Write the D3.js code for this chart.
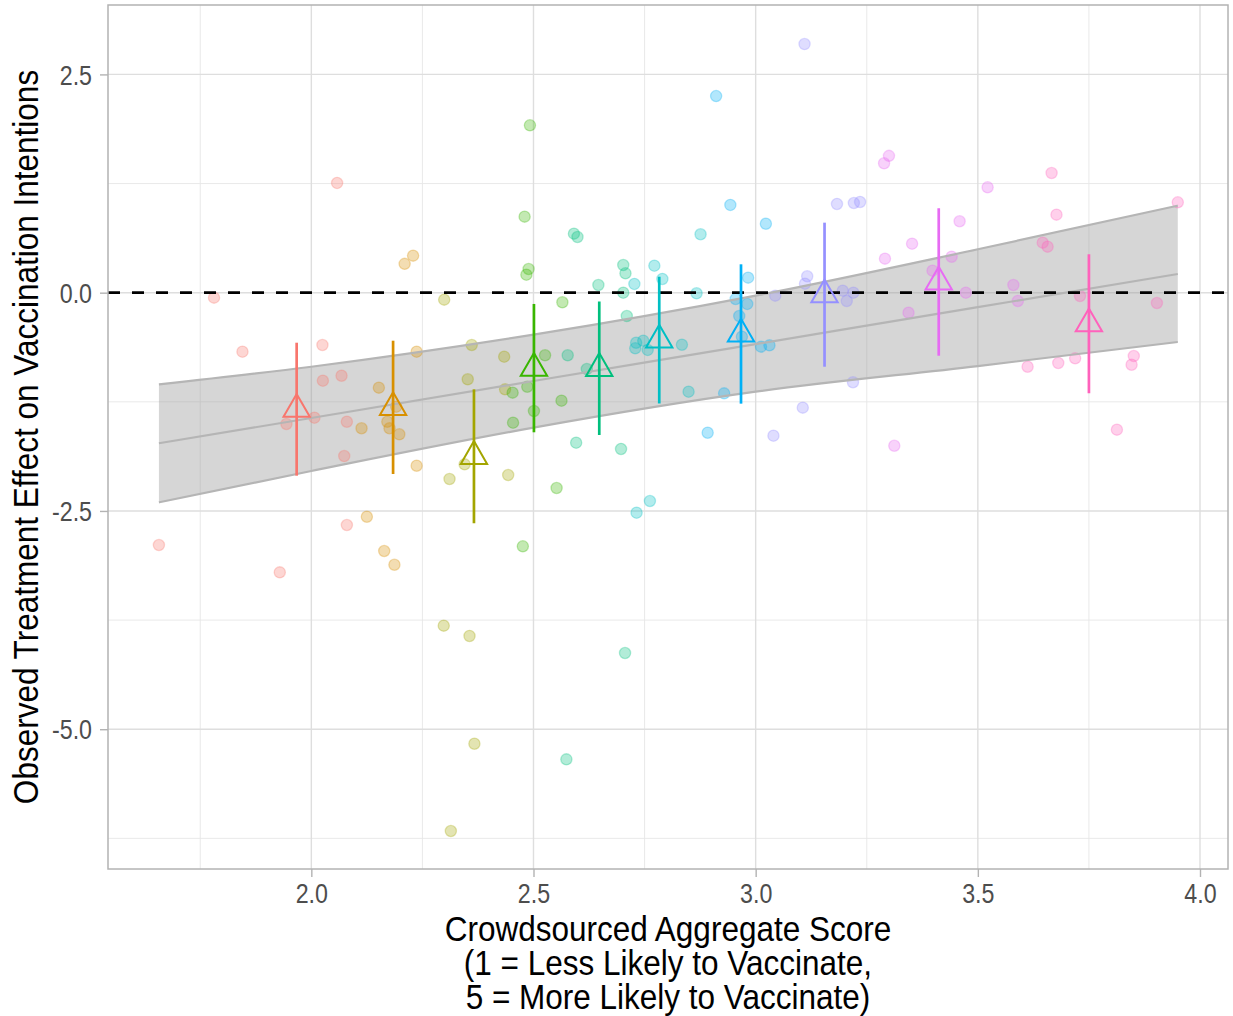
<!DOCTYPE html>
<html>
<head>
<meta charset="utf-8">
<script src="https://cdn.jsdelivr.net/npm/d3@7"></script>
<style>
  html, body { margin: 0; padding: 0; background: #ffffff; }
  svg { display: block; }
  text { font-family: "Liberation Sans", Arial, Helvetica, sans-serif; }
</style>
</head>
<body>
<svg id="chart" width="1233" height="1016"></svg>
<script>
// ---- data ----------------------------------------------------------
// Bin (1..10) of each observation, its crowdsourced score and observed effect
const pointGroup = [
  1,1,1,1,1,1,1,1,1,1,1,1,1,
  2,2,2,2,2,2,2,2,2,2,2,2,2,
  3,3,3,3,3,3,3,3,3,3,3,3,
  4,4,4,4,4,4,4,4,4,4,4,4,4,
  5,5,5,5,5,5,5,5,5,5,5,5,5,
  6,6,6,6,6,6,6,6,6,6,6,6,6,
  7,7,7,7,7,7,7,7,7,7,7,7,
  8,8,8,8,8,8,8,8,8,8,8,8,8,
  9,9,9,9,9,9,9,9,9,9,9,9,9,
  10,10,10,10,10,10,10,10,10,10,10,10,10
];
const pointScore = [
  1.657,1.781,1.845,1.929,1.944,2.007,2.025,2.026,2.068,2.080,2.074,2.080,2.058,
  2.210,2.229,2.152,2.113,2.171,2.176,2.198,2.191,2.125,2.164,2.187,2.237,2.237,
  2.299,2.361,2.352,2.434,2.436,2.345,2.311,2.443,2.298,2.356,2.367,2.314,
  2.492,2.480,2.489,2.484,2.565,2.526,2.453,2.486,2.501,2.563,2.454,2.552,2.476,
  2.591,2.599,2.702,2.707,2.646,2.702,2.710,2.577,2.620,2.596,2.697,2.706,2.574,
  2.772,2.790,2.727,2.876,2.867,2.731,2.747,2.729,2.757,2.834,2.849,2.732,2.762,
  2.911,2.943,3.023,2.983,2.955,2.981,2.963,2.969,3.012,3.031,2.929,2.892,
  3.110,3.183,3.221,3.235,3.116,3.111,3.196,3.220,3.205,3.044,3.219,3.106,3.040,
  3.300,3.289,3.522,3.459,3.352,3.291,3.441,3.398,3.473,3.344,3.312,3.580,3.590,
  3.666,3.677,3.646,3.657,3.730,3.950,3.903,3.612,3.681,3.719,3.851,3.846,3.813
];
const pointEffect = [
  -2.890,-0.057,-0.676,-3.203,-1.504,-1.432,-0.599,-1.008,-0.951,-1.478,-1.871,-2.661,1.257,
  0.330,0.424,-1.088,-1.553,-1.478,-1.553,-1.622,-1.306,-2.566,-2.959,-3.116,-0.676,-1.982,
  -0.080,-0.599,-0.992,-0.733,-1.107,-1.966,-2.134,-2.088,-3.814,-3.932,-5.166,-6.166,
  1.917,0.871,0.271,0.206,-0.110,-0.717,-1.145,-1.077,-1.355,-1.237,-1.489,-2.237,-2.905,
  0.676,0.638,0.317,0.222,0.088,0.000,-0.267,-0.717,-0.874,-1.718,-1.790,-4.127,-5.345,
  0.309,0.157,0.100,0.669,-0.007,-0.573,-0.550,-0.637,-0.656,-0.596,-1.134,-2.520,-2.386,
  2.252,1.005,0.790,0.172,-0.072,-0.129,-0.267,-0.504,-0.618,-0.603,-1.153,-1.604,
  2.848,1.016,1.027,1.039,0.188,0.103,0.023,0.000,-0.095,-0.034,-1.026,-1.317,-1.638,
  1.567,1.482,1.207,0.818,0.561,0.390,0.412,0.252,0.000,-0.229,-1.753,0.088,-0.095,
  1.371,0.894,0.573,0.527,-0.038,1.035,-0.118,-0.848,-0.805,-0.752,-0.725,-0.825,-1.569
];

// Bin summaries: mean score, mean effect and interval bounds
const binIds    = [1, 2, 3, 4, 5, 6, 7, 8, 9, 10];
const binScore  = [1.967, 2.184, 2.366, 2.501, 2.648, 2.783, 2.967, 3.155, 3.412, 3.750];
const binEffect = [-1.335, -1.315, -1.874, -0.865, -0.866, -0.542, -0.473, -0.023, 0.123, -0.356];
const binLow    = [-2.096, -2.077, -2.641, -1.599, -1.630, -1.269, -1.271, -0.848, -0.722, -1.152];
const binHigh   = [-0.573, -0.550, -1.107, -0.129, -0.101, 0.183, 0.325, 0.802, 0.967, 0.440];

// Linear fit with its confidence band
const fitScore = [1.657, 2.0, 2.5, 3.0, 3.5, 3.95];
const fitValue = [-1.725, -1.435, -1.012, -0.589, -0.166, 0.214];
const fitLower = [-2.401, -2.042, -1.546, -1.134, -0.841, -0.565];
const fitUpper = [-1.051, -0.848, -0.481, -0.034, 0.497, 0.997];

// Axis breaks
const xTicks = [2.0, 2.5, 3.0, 3.5, 4.0];
const xMinorTicks = [1.75, 2.25, 2.75, 3.25, 3.75];
const yTicks = [2.5, 0.0, -2.5, -5.0];
const yMinorTicks = [1.25, -1.25, -3.75, -6.25];
const xTickLabels = ["2.0", "2.5", "3.0", "3.5", "4.0"];
const yTickLabels = ["2.5", "0.0", "-2.5", "-5.0"];

const xTitleLines = [
  "Crowdsourced Aggregate Score",
  "(1 = Less Likely to Vaccinate,",
  "5 = More Likely to Vaccinate)"
];
const yTitle = "Observed Treatment Effect on Vaccination Intentions";

// ---- layout --------------------------------------------------------
const panel = { left: 108, right: 1228, top: 5, bottom: 869 };
const svg = d3.select("#chart");

const x = d3.scaleLinear().domain([1.5424, 4.063]).range([panel.left, panel.right]);
const y = d3.scaleLinear().domain([-6.601, 3.295]).range([panel.bottom, panel.top]);

const palette = ["#F8766D", "#D89000", "#A3A500", "#39B600", "#00BF7D",
                 "#00BFC4", "#00B0F6", "#9590FF", "#E76BF3", "#FF62BC"];
const color = d3.scaleOrdinal().domain(binIds).range(palette);

// panel background
svg.append("rect")
  .attr("x", panel.left).attr("y", panel.top)
  .attr("width", panel.right - panel.left).attr("height", panel.bottom - panel.top)
  .attr("fill", "#ffffff");

// grid
const grid = svg.append("g");
grid.selectAll(".xminor").data(xMinorTicks).join("line")
  .attr("x1", d => x(d)).attr("x2", d => x(d))
  .attr("y1", panel.top).attr("y2", panel.bottom)
  .attr("stroke", "#e6e6e6").attr("stroke-width", 0.9);
grid.selectAll(".yminor").data(yMinorTicks).join("line")
  .attr("x1", panel.left).attr("x2", panel.right)
  .attr("y1", d => y(d)).attr("y2", d => y(d))
  .attr("stroke", "#e6e6e6").attr("stroke-width", 0.9);
grid.selectAll(".xmajor").data(xTicks).join("line")
  .attr("x1", d => x(d)).attr("x2", d => x(d))
  .attr("y1", panel.top).attr("y2", panel.bottom)
  .attr("stroke", "#dedede").attr("stroke-width", 1.4);
grid.selectAll(".ymajor").data(yTicks).join("line")
  .attr("x1", panel.left).attr("x2", panel.right)
  .attr("y1", d => y(d)).attr("y2", d => y(d))
  .attr("stroke", "#dedede").attr("stroke-width", 1.4);

// confidence band of the linear fit
const band = fitScore.map((s, i) => ({ s, fit: fitValue[i], lo: fitLower[i], hi: fitUpper[i] }));
svg.append("path")
  .datum(band)
  .attr("d", d3.area().x(d => x(d.s)).y0(d => y(d.lo)).y1(d => y(d.hi)).curve(d3.curveMonotoneX))
  .attr("fill", "#999999").attr("fill-opacity", 0.4);

// observations
const points = pointScore.map((s, i) => ({ s, e: pointEffect[i], g: pointGroup[i] }));
svg.append("g").selectAll("circle").data(points).join("circle")
  .attr("cx", d => x(d.s)).attr("cy", d => y(d.e)).attr("r", 5.6)
  .attr("fill", d => color(d.g)).attr("fill-opacity", 0.3)
  .attr("stroke", d => color(d.g)).attr("stroke-opacity", 0.3).attr("stroke-width", 1.3);

// band edges and fitted line
const edge = key => d3.line().x(d => x(d.s)).y(d => y(d[key])).curve(d3.curveMonotoneX);
["lo", "hi"].forEach(k => {
  svg.append("path").datum(band).attr("d", edge(k))
    .attr("fill", "none").attr("stroke", "#b5b5b5").attr("stroke-width", 2.2);
});
svg.append("path").datum(band).attr("d", edge("fit"))
  .attr("fill", "none").attr("stroke", "#b5b5b5").attr("stroke-width", 2.2);

// reference line at zero
svg.append("line")
  .attr("x1", panel.left).attr("x2", panel.right)
  .attr("y1", y(0)).attr("y2", y(0))
  .attr("stroke", "#000000").attr("stroke-width", 2.8)
  .attr("stroke-dasharray", "12,12");

// bin intervals and means
const bins = binIds.map((g, i) => ({ g, s: binScore[i], e: binEffect[i], lo: binLow[i], hi: binHigh[i] }));
svg.append("g").selectAll("line").data(bins).join("line")
  .attr("x1", d => x(d.s)).attr("x2", d => x(d.s))
  .attr("y1", d => y(d.lo)).attr("y2", d => y(d.hi))
  .attr("stroke", d => color(d.g)).attr("stroke-width", 2.7);
const tri = d3.symbol().type(d3.symbolTriangle).size(300);
svg.append("g").selectAll("path").data(bins).join("path")
  .attr("transform", d => `translate(${x(d.s)},${y(d.e)})`)
  .attr("d", tri)
  .attr("fill", "none").attr("stroke", d => color(d.g)).attr("stroke-width", 2);

// panel border
svg.append("rect")
  .attr("x", panel.left).attr("y", panel.top)
  .attr("width", panel.right - panel.left).attr("height", panel.bottom - panel.top)
  .attr("fill", "none").attr("stroke", "#b3b3b3").attr("stroke-width", 1.5);

// axes
function narrow(sel, ratio) {
  sel.each(function () {
    const w = this.getComputedTextLength();
    d3.select(this).attr("textLength", w * ratio).attr("lengthAdjust", "spacingAndGlyphs");
  });
}

const xAxis = svg.append("g").attr("transform", `translate(0,${panel.bottom})`)
  .call(d3.axisBottom(x).tickValues(xTicks).tickFormat((d, i) => xTickLabels[i]).tickSize(8).tickPadding(3));
const yAxis = svg.append("g").attr("transform", `translate(${panel.left},0)`)
  .call(d3.axisLeft(y).tickValues(yTicks).tickFormat((d, i) => yTickLabels[i]).tickSize(8).tickPadding(8));
[xAxis, yAxis].forEach(ax => {
  ax.select(".domain").remove();
  ax.selectAll(".tick line").attr("stroke", "#b3b3b3").attr("stroke-width", 1.4);
  ax.selectAll(".tick text").attr("fill", "#4d4d4d").style("font-size", "27px")
    .style("font-family", "'Liberation Sans', Arial, Helvetica, sans-serif");
});
xAxis.selectAll(".tick text").attr("dy", "0.85em");
yAxis.selectAll(".tick text").attr("dy", "0.36em");
narrow(xAxis.selectAll(".tick text"), 0.86);
narrow(yAxis.selectAll(".tick text"), 0.86);

// axis titles
const cx = (panel.left + panel.right) / 2;
const xTitleBaselines = [941, 975, 1009];
const xTitle = svg.append("g").selectAll("text").data(xTitleLines).join("text")
  .attr("x", cx).attr("y", (d, i) => xTitleBaselines[i])
  .attr("text-anchor", "middle")
  .style("font-size", "35px").attr("fill", "#000000")
  .text(d => d);
narrow(xTitle, 0.9);

const yTitleText = svg.append("text")
  .attr("transform", `translate(38,${(panel.top + panel.bottom) / 2}) rotate(-90)`)
  .attr("text-anchor", "middle")
  .style("font-size", "35px").attr("fill", "#000000")
  .text(yTitle);
narrow(yTitleText, 0.9);
</script>
</body>
</html>
